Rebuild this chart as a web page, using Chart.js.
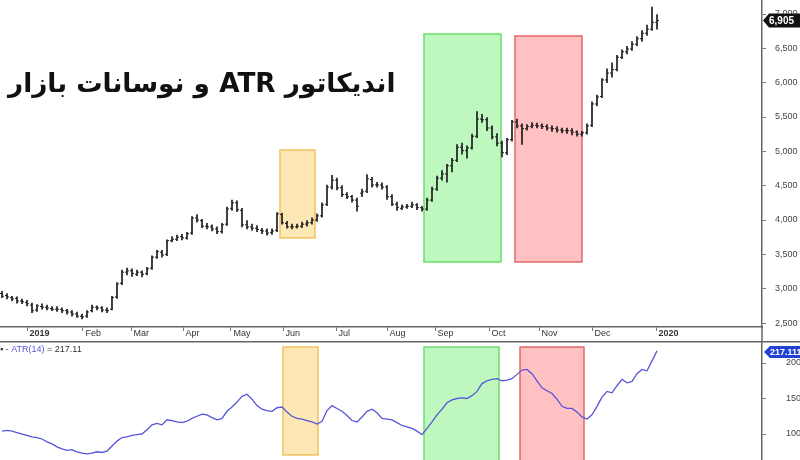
<!DOCTYPE html>
<html>
<head>
<meta charset="utf-8">
<script src="https://cdn.jsdelivr.net/npm/chart.js@4.4.0/dist/chart.umd.min.js"></script>
<style>
  html, body { margin: 0; padding: 0; background: #fff; }
  #wrap { position: relative; width: 800px; height: 460px; overflow: hidden; }
  #priceBox { position: absolute; left: 0; top: 0; width: 800px; height: 341px; }
  #atrBox { position: absolute; left: 0; top: 341px; width: 800px; height: 119px; }
  #title {
    position: absolute; left: 8px; top: 68px;
    font: bold 26.3px 'DejaVu Sans', sans-serif; color: #111;
    direction: rtl; white-space: nowrap;
  }
</style>
</head>
<body>
<div id="wrap">
  <div id="priceBox"><canvas id="price" width="800" height="341"></canvas></div>
  <div id="atrBox"><canvas id="atr" width="800" height="119"></canvas></div>
  <div id="title" dir="rtl">اندیکاتور ATR و نوسانات بازار</div>
</div>
<script>
// bar index = one bar every two sessions, mid Dec 2018 .. early Jan 2020
const opens = [2930,2900,2870,2860,2820,2800,2760,2690,2740,2730,2710,2700,2700,2680,2660,2630,2600,2600,2680,2730,2720,2690,
  2700,2880,3080,3240,3260,3210,3240,3220,3300,3460,3530,3500,3700,3720,3760,3740,3810,4030,3990,3910,3900,3870,
  3830,3940,4170,4250,4140,3930,3900,3880,3850,3840,3820,3850,4080,3950,3900,3900,3910,3940,3960,4000,4060,4230,
  4480,4580,4470,4370,4340,4290,4390,4420,4590,4510,4510,4480,4340,4230,4170,4190,4200,4220,4180,4160,4290,4450,
  4610,4670,4790,4870,5060,5010,5050,5220,5470,5460,5340,5210,5120,4980,5170,5430,5370,5330,5360,5380,5370,5360,
  5340,5330,5310,5300,5300,5280,5250,5270,5380,5690,5800,6040,6140,6190,6370,6450,6490,6560,6640,6720,6780,6880];
const highs = [2960,2930,2890,2880,2850,2830,2790,2770,2780,2760,2740,2740,2720,2700,2680,2660,2630,2680,2760,2750,2740,2720,
  2890,3090,3270,3300,3290,3270,3260,3310,3480,3560,3560,3710,3760,3780,3790,3820,4050,4080,4010,3950,3930,3900,
  3950,4190,4290,4280,4170,3990,3940,3920,3880,3870,3870,4110,4100,3980,3940,3940,3970,3990,4030,4090,4250,4510,
  4650,4610,4500,4400,4360,4320,4450,4660,4620,4550,4540,4500,4370,4260,4220,4230,4260,4240,4200,4320,4480,4640,
  4720,4810,4900,5100,5120,5080,5250,5580,5540,5490,5370,5260,5150,5190,5450,5470,5400,5390,5420,5410,5400,5390,
  5370,5360,5340,5340,5330,5300,5290,5400,5720,5820,6060,6200,6290,6400,6480,6530,6600,6670,6760,6840,7100,6990];
const lows = [2870,2850,2820,2790,2780,2750,2650,2670,2700,2690,2680,2670,2650,2630,2600,2580,2560,2580,2660,2690,2660,2650,
  2690,2860,3060,3200,3180,3190,3170,3200,3280,3440,3460,3480,3680,3700,3710,3720,3790,3970,3890,3870,3840,3800,
  3810,3920,4140,4120,3900,3870,3850,3830,3800,3780,3790,3830,3940,3880,3870,3880,3890,3910,3940,3980,4040,4210,
  4450,4440,4340,4310,4260,4130,4340,4400,4480,4480,4450,4300,4210,4140,4150,4170,4180,4150,4130,4140,4270,4430,
  4580,4550,4700,4850,4960,4900,5030,5200,5420,5300,5180,5080,4920,4950,5150,5340,5100,5310,5340,5340,5330,5310,
  5290,5280,5270,5260,5240,5220,5220,5250,5360,5660,5780,6000,6080,6170,6350,6420,6470,6540,6600,6690,6760,6780];
const closes = [2890,2880,2850,2820,2810,2780,2680,2750,2730,2720,2700,2700,2680,2660,2630,2600,2590,2660,2730,2720,2690,2680,
  2870,3070,3240,3260,3220,3240,3210,3290,3460,3540,3490,3700,3720,3750,3740,3800,4030,4000,3910,3900,3870,3830,
  3930,4160,4250,4150,3930,3900,3880,3860,3840,3810,3840,4090,3960,3900,3900,3910,3940,3960,4000,4060,4220,4480,
  4580,4470,4370,4340,4290,4200,4410,4600,4510,4510,4480,4340,4230,4180,4190,4200,4220,4180,4160,4290,4450,4610,
  4670,4790,4870,5060,5010,5050,5220,5470,5460,5340,5210,5120,4980,5170,5430,5370,5330,5360,5380,5370,5360,5340,
  5330,5310,5300,5300,5280,5250,5270,5370,5690,5790,6040,6140,6190,6370,6450,6490,6560,6640,6720,6780,6880,6905];
const atr14 = [104,105,104,102,100,98,96,95,93,89,86,82,79,77,78,75,73,72,73,75,74,76,
  83,90,95,96,98,99,100,106,113,115,113,120,119,117,116,118,122,125,128,127,123,120,
  122,132,138,145,153,156,149,140,135,133,132,137,138,131,125,122,121,119,117,114,118,133,
  140,136,132,126,119,117,124,132,135,130,122,121,120,116,112,110,108,104,99,108,117,127,
  135,144,148,150,151,150,154,160,171,175,177,178,175,176,178,184,190,191,185,175,165,161,
  157,149,139,136,136,131,124,121,127,139,152,160,158,168,177,172,174,185,191,189,203,217.111];

// month ticks (bar index of first session of each month)
const monthLabels = ['2019','Feb','Mar','Apr','May','Jun','Jul','Aug','Sep','Oct','Nov','Dec','2020'];
const monthPos = [5,16.2,25.8,36.2,45.8,56.2,66.8,77,86.6,97.4,107.4,118,130.8];
const priceTicks = [2500,3000,3500,4000,4500,5000,5500,6000,6500,7000];
const atrTicks = [100,150,200];

// highlighted zones [fromBar, toBar, low, high]
const priceZones = [[55.6,62.6,3739,5020],[84.4,99.8,3389,6709],[102.6,116,3389,6680]];
const atrZones = [[56.2,63.2,70.5,222.5],[84.4,99.4,55,222.5],[103.6,116.4,55,222.5]];
const zoneFill = ['rgba(252,222,150,0.7)','rgba(170,245,170,0.75)','rgba(255,178,178,0.8)'];
const zoneLine = ['#f1c25e','#6edb6e','#e06868'];

const FONT = "'Liberation Sans', Arial, sans-serif";
const barColor = '#1b1b1b';
const atrColor = '#5656d8';

function zonesPlugin(zones) {
  return {
    id: 'zones',
    beforeDatasetsDraw(chart) {
      const { ctx, scales: { x, y } } = chart;
      ctx.save();
      zones.forEach((z, i) => {
        const l = x.getPixelForValue(z[0]), r = x.getPixelForValue(z[1]);
        const t = y.getPixelForValue(z[3]), b = y.getPixelForValue(z[2]);
        ctx.fillStyle = zoneFill[i];
        ctx.fillRect(l, t, r - l, b - t);
        ctx.strokeStyle = zoneLine[i];
        ctx.lineWidth = 1.5;
        ctx.strokeRect(l, t, r - l, b - t);
      });
      ctx.restore();
    }
  };
}

function badge(ctx, left, right, y, h, color, text, size) {
  ctx.save();
  ctx.fillStyle = color;
  ctx.beginPath();
  ctx.moveTo(left, y);
  ctx.lineTo(left + 6, y - h / 2);
  ctx.lineTo(right, y - h / 2);
  ctx.lineTo(right, y + h / 2);
  ctx.lineTo(left + 6, y + h / 2);
  ctx.closePath();
  ctx.fill();
  ctx.fillStyle = '#fff';
  ctx.font = 'bold ' + size + 'px ' + FONT;
  ctx.textAlign = 'left';
  ctx.textBaseline = 'middle';
  ctx.fillText(text, left + 6, y + 0.5);
  ctx.restore();
}

const rightAxis = (ticks, pad) => ({
  position: 'right',
  afterBuildTicks: s => { s.ticks = ticks.map(v => ({ value: v })); },
  afterFit: s => { s.width = 38; s.paddingTop = 0; s.paddingBottom = 0; },
  grid: { drawOnChartArea: false, tickLength: 4, color: '#777' },
  border: { color: '#666', width: 1.5 },
  ticks: {
    padding: pad, color: '#444', font: { family: FONT, size: 9 },
    callback: v => v.toLocaleString('en-US')
  }
});

new Chart(document.getElementById('price'), {
  type: 'bar',
  data: {
    datasets: [
      {
        type: 'bar',
        data: closes.map((c, i) => ({ x: i, y: [lows[i], highs[i]] })),
        backgroundColor: barColor,
        barThickness: 1,
        grouped: false
      },
      {
        type: 'line',
        data: opens.map((o, i) => ({ x: i, y: o })),
        showLine: false,
        pointStyle: 'dash',
        rotation: 180,
        pointRadius: 2,
        pointBorderWidth: 1,
        borderColor: barColor
      },
      {
        type: 'line',
        data: closes.map((c, i) => ({ x: i, y: c })),
        showLine: false,
        pointStyle: 'dash',
        rotation: 0,
        pointRadius: 2,
        pointBorderWidth: 1,
        borderColor: barColor
      }
    ]
  },
  options: {
    responsive: false,
    animation: false,
    events: [],
    layout: { padding: 0, autoPadding: false },
    plugins: { legend: { display: false }, tooltip: { enabled: false } },
    scales: {
      x: {
        type: 'linear',
        min: -0.4,
        max: 152,
        offset: false,
        afterBuildTicks: s => { s.ticks = monthPos.map(v => ({ value: v })); },
        afterFit: s => { s.height = 14; s.paddingLeft = 0; s.paddingRight = 0; },
        grid: { drawOnChartArea: false, offset: false, tickLength: 4, color: '#777' },
        border: { color: '#666', width: 1.5 },
        ticks: {
          autoSkip: false,
          maxRotation: 0,
          align: 'start',
          padding: -3,
          color: '#333',
          font: c => ({ family: FONT, size: 9, weight: /^\d/.test(monthLabels[c.index] || '') ? 'bold' : 'normal' }),
          callback: (v, i) => ' ' + monthLabels[i]
        }
      },
      y: Object.assign(rightAxis(priceTicks, 9), { min: 2442, max: 7204 })
    }
  },
  plugins: [
    zonesPlugin(priceZones),
    {
      id: 'priceExtras',
      afterDraw(chart) {
        const { ctx, chartArea } = chart;
        ctx.save();
        ctx.strokeStyle = '#666';
        ctx.lineWidth = 1.5;
        ctx.beginPath();
        ctx.moveTo(chartArea.right, chartArea.bottom);
        ctx.lineTo(chartArea.right, chart.height);
        ctx.stroke();
        ctx.restore();
        const last = closes[closes.length - 1];
        badge(ctx, chartArea.right + 1, chart.width, chart.scales.y.getPixelForValue(last), 14, '#111',
          last.toLocaleString('en-US'), 10);
      }
    }
  ]
});

new Chart(document.getElementById('atr'), {
  type: 'line',
  data: {
    datasets: [{
      data: atr14.map((v, i) => ({ x: i, y: v })),
      borderColor: atrColor,
      borderWidth: 1.3,
      pointRadius: 0,
      tension: 0
    }]
  },
  options: {
    responsive: false,
    animation: false,
    events: [],
    layout: { padding: 0, autoPadding: false },
    plugins: { legend: { display: false }, tooltip: { enabled: false } },
    scales: {
      x: {
        type: 'linear', min: -0.4, max: 152, display: false,
        afterFit: s => { s.height = 0; }
      },
      y: Object.assign(rightAxis(atrTicks, 20), { min: 63.4, max: 231 })
    }
  },
  plugins: [
    zonesPlugin(atrZones),
    {
      id: 'atrExtras',
      afterDraw(chart) {
        const { ctx, chartArea } = chart;
        const last = atr14[atr14.length - 1];
        ctx.save();
        ctx.strokeStyle = '#666';
        ctx.lineWidth = 1.5;
        ctx.beginPath();
        ctx.moveTo(0, 0.75);
        ctx.lineTo(chart.width, 0.75);
        ctx.stroke();
        // legend text
        ctx.font = '9px ' + FONT;
        ctx.textBaseline = 'middle';
        ctx.textAlign = 'left';
        let x = 0;
        const parts = [['\u25aa - ', '#333'], ['ATR(14)', atrColor], [' = ' + last.toFixed(2), '#333']];
        parts.forEach(([t, c]) => {
          ctx.fillStyle = c;
          ctx.fillText(t, x, 9);
          x += ctx.measureText(t).width;
        });
        ctx.restore();
        badge(ctx, chartArea.right + 2, chart.width, 11, 12, '#2242d4', last.toFixed(3), 9);
      }
    }
  ]
});
</script>
</body>
</html>
